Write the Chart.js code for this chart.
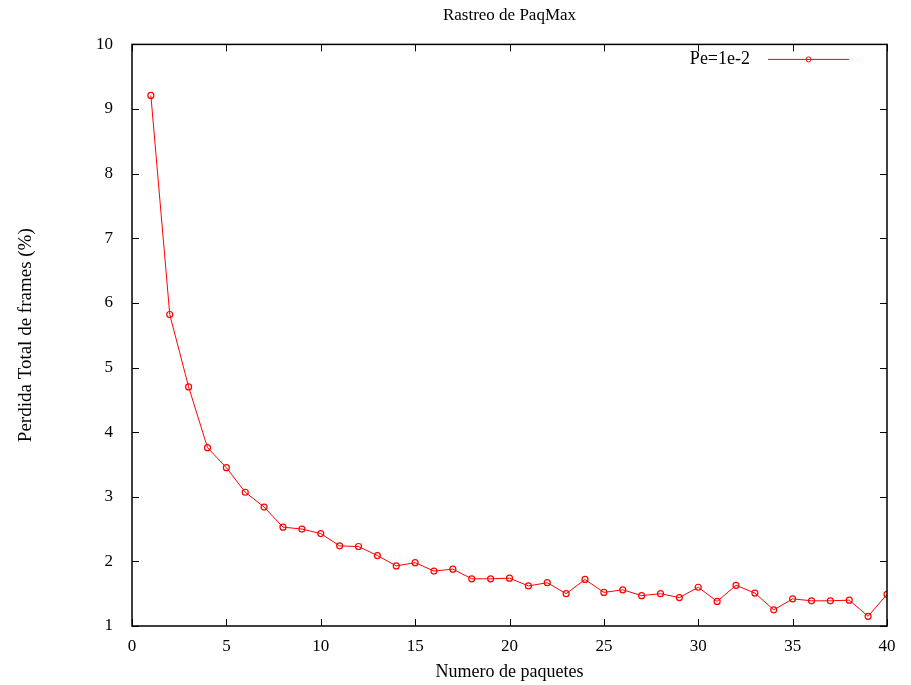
<!DOCTYPE html>
<html lang="es">
<head>
    <meta charset="UTF-8">
    <title>Rastreo de PaqMax</title>
    <script src="https://cdn.jsdelivr.net/npm/chart.js"></script>
    <style>
        body { margin: 0; background: #fff; }
        canvas { display: block; }
    </style>
</head>
<body>
    <canvas id="chart" width="911" height="685"></canvas>

    <script>
        // datos
        const paquetes = [1, 2, 3, 4, 5, 6, 7, 8, 9, 10, 11, 12, 13, 14, 15, 16, 17, 18, 19, 20,
                          21, 22, 23, 24, 25, 26, 27, 28, 29, 30, 31, 32, 33, 34, 35, 36, 37, 38, 39, 40];
        const perdida = [9.21, 5.82, 4.70, 3.76, 3.45, 3.07, 2.84, 2.53, 2.50, 2.43,
                         2.24, 2.23, 2.09, 1.93, 1.98, 1.85, 1.88, 1.73, 1.73, 1.74,
                         1.62, 1.67, 1.50, 1.72, 1.52, 1.56, 1.47, 1.50, 1.44, 1.60,
                         1.38, 1.63, 1.51, 1.25, 1.42, 1.39, 1.39, 1.40, 1.15, 1.49];
        const serieLabel = 'Pe=1e-2';
        const xTicks = [0, 5, 10, 15, 20, 25, 30, 35, 40];
        const yTicks = [1, 2, 3, 4, 5, 6, 7, 8, 9, 10];

        const fontFamily = '"Liberation Serif", "DejaVu Serif", serif';
        const rojo = '#ff0000';

        // marco tipo gnuplot con marcas hacia dentro en los cuatro lados
        const marcoPlugin = {
            id: 'marco',
            afterDatasetsDraw(chart) {
                const { ctx, chartArea: a, scales } = chart;
                const len = 7;
                ctx.save();
                ctx.strokeStyle = '#000';
                ctx.lineWidth = 1;
                ctx.beginPath();
                xTicks.forEach(v => {
                    const x = Math.round(scales.x.getPixelForValue(v)) + 0.5;
                    ctx.moveTo(x, a.bottom); ctx.lineTo(x, a.bottom - len);
                    ctx.moveTo(x, a.top); ctx.lineTo(x, a.top + len);
                });
                yTicks.forEach(v => {
                    const y = Math.round(scales.y.getPixelForValue(v)) + 0.5;
                    ctx.moveTo(a.left, y); ctx.lineTo(a.left + len, y);
                    ctx.moveTo(a.right, y); ctx.lineTo(a.right - len, y);
                });
                ctx.stroke();
                ctx.lineWidth = 1.5;
                ctx.strokeRect(a.left, a.top, a.right - a.left, a.bottom - a.top);

                // leyenda
                const ly = a.top + 15;
                const lx1 = a.right - 119, lx2 = a.right - 38;
                ctx.fillStyle = '#000';
                ctx.font = '18px ' + fontFamily;
                ctx.textAlign = 'right';
                ctx.textBaseline = 'middle';
                ctx.fillText(serieLabel, lx1 - 18, ly);
                ctx.strokeStyle = rojo;
                ctx.lineWidth = 1;
                ctx.beginPath();
                ctx.moveTo(lx1, ly); ctx.lineTo(lx2, ly);
                ctx.stroke();
                ctx.beginPath();
                ctx.arc((lx1 + lx2) / 2, ly, 2.5, 0, Math.PI * 2);
                ctx.stroke();
                ctx.restore();
            }
        };

        const ctx = document.getElementById('chart').getContext('2d');
        new Chart(ctx, {
            type: 'line',
            data: {
                datasets: [{
                    label: serieLabel,
                    data: paquetes.map((p, i) => ({ x: p, y: perdida[i] })),
                    borderColor: rojo,
                    borderWidth: 1,
                    pointStyle: 'circle',
                    pointRadius: 3,
                    pointBorderWidth: 1.2,
                    pointBorderColor: rojo,
                    pointBackgroundColor: 'rgba(255,255,255,0)',
                    tension: 0
                }]
            },
            options: {
                responsive: false,
                animation: false,
                layout: { padding: { top: 0, right: 24, bottom: 0, left: 0 } },
                plugins: {
                    legend: { display: false },
                    tooltip: { enabled: false },
                    title: {
                        display: true,
                        text: 'Rastreo de PaqMax',
                        fullSize: false,
                        color: '#000',
                        font: { family: fontFamily, size: 17, weight: 'normal' },
                        padding: { top: 5, bottom: 19 }
                    }
                },
                scales: {
                    x: {
                        type: 'linear',
                        min: 0,
                        max: 40,
                        afterBuildTicks: s => { s.ticks = xTicks.map(v => ({ value: v })); },
                        afterFit: s => { s.height = 59; },
                        grid: { display: false, drawTicks: false },
                        border: { display: false },
                        ticks: {
                            color: '#000',
                            padding: 10,
                            font: { family: fontFamily, size: 17 }
                        },
                        title: {
                            display: true,
                            text: 'Numero de paquetes',
                            color: '#000',
                            font: { family: fontFamily, size: 18 },
                            padding: { top: 5, bottom: 2 }
                        }
                    },
                    y: {
                        min: 1,
                        max: 10,
                        afterBuildTicks: s => { s.ticks = yTicks.map(v => ({ value: v })); },
                        afterFit: s => { s.width = 132; },
                        grid: { display: false, drawTicks: false },
                        border: { display: false },
                        ticks: {
                            color: '#000',
                            padding: 19,
                            font: { family: fontFamily, size: 17 }
                        },
                        title: {
                            display: true,
                            text: 'Perdida Total de frames (%)',
                            color: '#000',
                            font: { family: fontFamily, size: 19 },
                            padding: { top: 15, bottom: 0 }
                        }
                    }
                }
            },
            plugins: [marcoPlugin]
        });
    </script>
</body>
</html>
